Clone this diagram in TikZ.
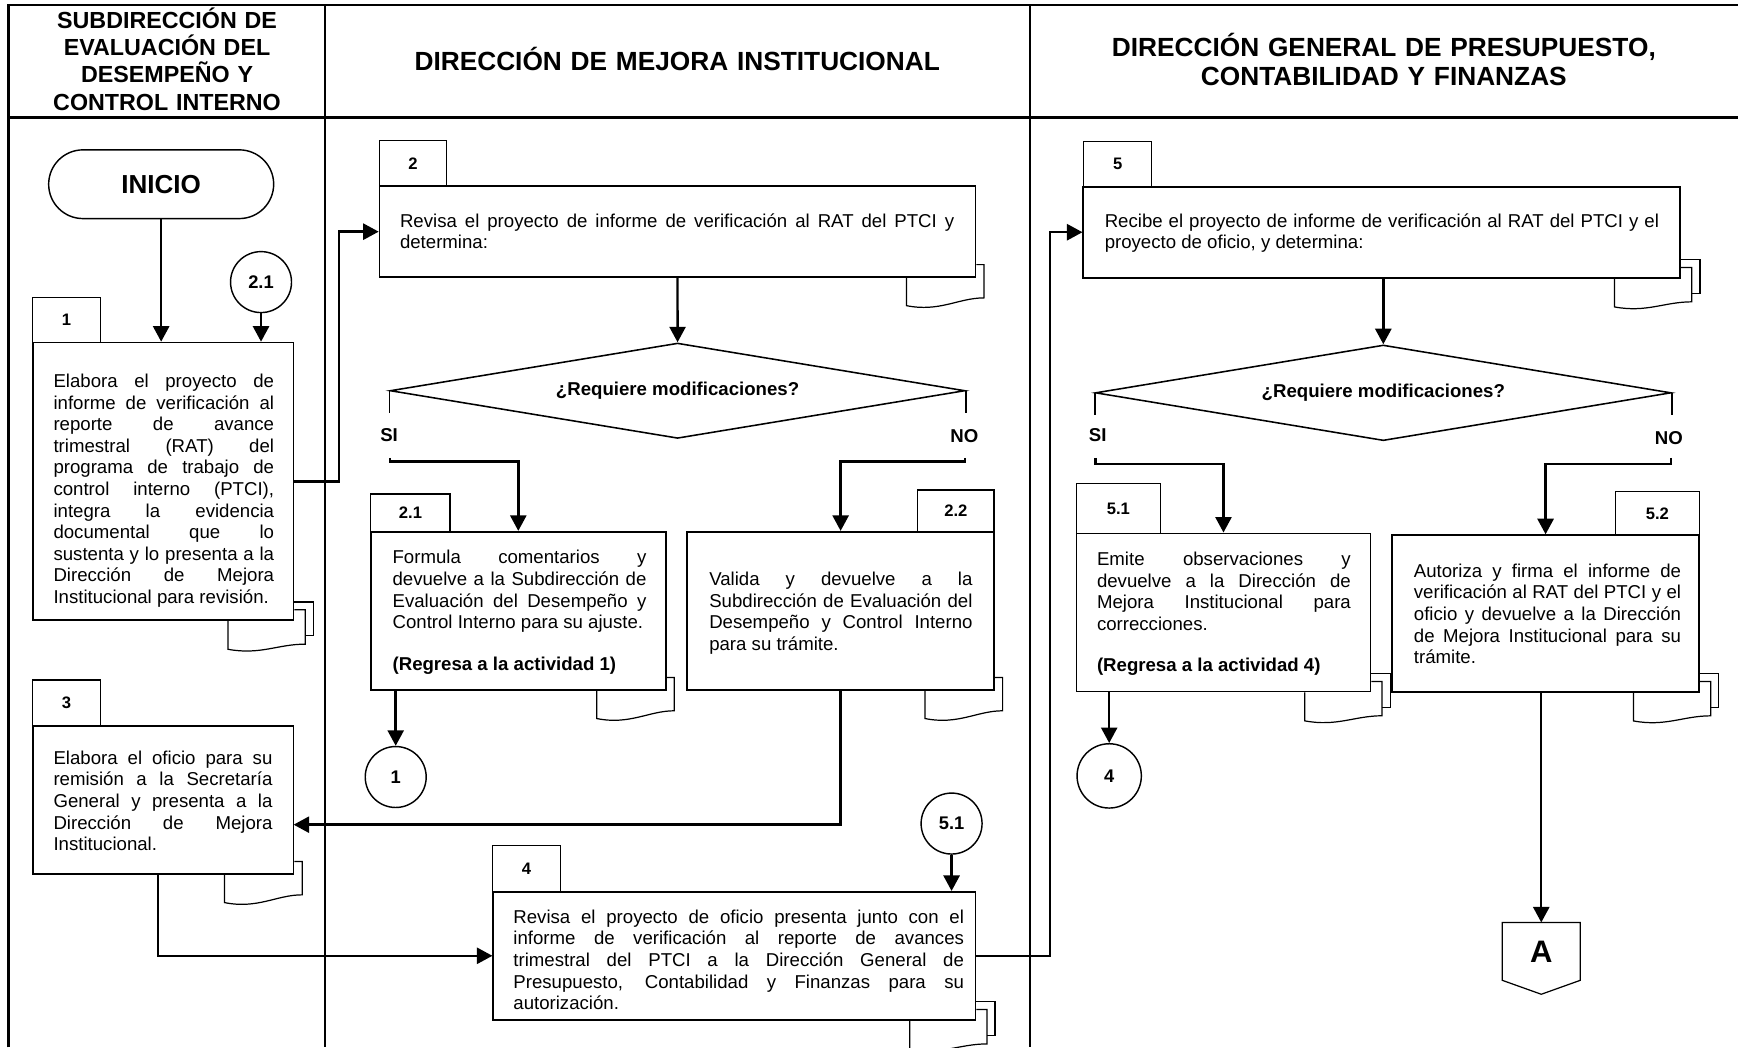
\documentclass[tikz,border=0pt]{standalone}
\usepackage{fontspec}
\setmainfont{Liberation Sans}
\usetikzlibrary{arrows.meta,shapes.geometric}
\tolerance=10000
\hyphenpenalty=10000
\exhyphenpenalty=10000
\newcommand\fbody{\fontsize{16.8}{19.5}\selectfont}
\newcommand\fbodyb{\fontsize{16.8}{19.5}\selectfont\bfseries}
\newcommand\ftab{\fontsize{15}{18}\selectfont\bfseries}
\newcommand\fcirc{\fontsize{16.5}{18}\selectfont\bfseries}
\newcommand\fhdrA{\fontsize{21}{24.6}\selectfont\bfseries}
\newcommand\fhdrB{\fontsize{23.7}{25.9}\selectfont\bfseries}
\newcommand\fstart{\fontsize{23.5}{27}\selectfont\bfseries}
\newcommand\fpage{\fontsize{28}{32}\selectfont\bfseries}
\newcommand\docone[1]{%
  \draw[docl] ([shift={(0,-12)}]#1.south east) -- ([shift={(7,-12)}]#1.south east)
    -- ([shift={(7,18)}]#1.south east)
    .. controls ([shift={(-16,18)}]#1.south east) and ([shift={(-33,31)}]#1.south east)
    .. ([shift={(-63,25)}]#1.south east) -- ([shift={(-63,0)}]#1.south east);}
\newcommand\docmulti[1]{%
  \draw[docl] ([shift={(0,-17)}]#1.south east) -- ([shift={(17,-17)}]#1.south east)
    -- ([shift={(17,13.5)}]#1.south east) -- ([shift={(9.7,13.5)}]#1.south east);
  \draw[docl] ([shift={(0,-10)}]#1.south east) -- ([shift={(9.7,-10)}]#1.south east)
    -- ([shift={(9.7,21)}]#1.south east)
    .. controls ([shift={(-15,21)}]#1.south east) and ([shift={(-31,31)}]#1.south east)
    .. ([shift={(-60,25.6)}]#1.south east) -- ([shift={(-60,0)}]#1.south east);}
\tikzset{
  frame/.style={line width=2pt},
  box/.style={draw, line width=1.5pt, fill=white, inner sep=0pt},
  tabbox/.style={draw, line width=1pt, fill=white, inner sep=0pt, font=\ftab},
  txt/.style={inner sep=0pt, align=justify, font=\fbody, anchor=base west},
  hdr/.style={inner sep=0pt, align=center, anchor=base},
  arr/.style={line width=2.2pt, -{Triangle[length=14pt,width=14.5pt]}},
  tickl/.style={line width=1.5pt},
  docl/.style={line width=1.1pt},
  circ/.style={circle, draw, line width=1.3pt, minimum size=55pt, inner sep=0pt, font=\fcirc},
  decision/.style={diamond, draw, line width=1.4pt, aspect=6, inner sep=0pt, font=\fbodyb},
  lbl/.style={inner sep=0pt, font=\fbodyb},
  startbox/.style={draw, rectangle, rounded corners=31pt, line width=1.3pt, minimum width=203pt, minimum height=62pt, font=\fstart},
}
\begin{document}
\begin{tikzpicture}[x=1pt, y=-1pt]
\useasboundingbox (0,0) rectangle (1568,945);
% frame
\draw[frame] (7.6,945) -- (7.6,4.5) -- (1568,4.5);
\draw[frame] (7.6,106) -- (1568,106);
\draw[frame] (293,4.5) -- (293,945);
\draw[frame] (929,4.5) -- (929,945);
% headers
\node[hdr, font=\fhdrA, text width=280pt] (h1) at (150.7,25.5) {SUBDIRECCIÓN DE\\EVALUACIÓN DEL\\DESEMPEÑO Y\\CONTROL INTERNO};
\node[hdr, font=\fhdrB, text width=600pt] (h2) at (611,63.5) {DIRECCIÓN DE MEJORA INSTITUCIONAL};
\node[hdr, font=\fhdrB, text width=600pt] (h3) at (1248.5,51.2) {DIRECCIÓN GENERAL DE PRESUPUESTO,\\CONTABILIDAD Y FINANZAS};

% lane 1
\node[startbox] (inicio) at (145.4,166.2) {INICIO};
\node[circ] (c21a) at (235.5,254.5) {2.1};
\node[tabbox, minimum width=61.3pt, minimum height=40.8pt] (t1) at (60.1,288.6) {1};
\node[box, minimum width=235.3pt, minimum height=250.4pt] (b1) at (147.2,434.2) {};
\docmulti{b1}
\node[txt, text width=199pt] (b1t) at (48.1,349.5) {Elabora el proyecto de\linebreak informe de verificación al\linebreak reporte de avance\linebreak trimestral (RAT) del\linebreak programa de trabajo de\linebreak control interno (PTCI),\linebreak integra la evidencia\linebreak documental que lo\linebreak sustenta y lo presenta a la\linebreak Dirección de Mejora\linebreak Institucional para revisión.};

\node[tabbox, minimum width=61.3pt, minimum height=41.5pt] (t3) at (60.1,634.25) {3};
\node[box, minimum width=235.3pt, minimum height=133.5pt] (b3) at (147.2,721.8) {};
\docone{b3}
\node[txt, text width=197.5pt] (b3t) at (48.1,689.5) {Elabora el oficio para su\linebreak remisión a la Secretaría\linebreak General y presenta a la\linebreak Dirección de Mejora\linebreak Institucional.};

% lane 2
\node[tabbox, minimum width=60.6pt, minimum height=41pt] (t2) at (372.7,147.5) {2};
\node[box, minimum width=537.6pt, minimum height=82pt] (b2) at (611.2,209) {};
\docone{b2}
\node[txt, text width=500pt] (b2t) at (360.7,205) {Revisa el proyecto de informe de verificación al RAT del PTCI y\linebreak determina:};

\node[decision, minimum width=518.6pt, minimum height=86pt] (d1) at (611.3,352.5) {¿Requiere modificaciones?};
\node[lbl] (si1) at (351,392.5) {SI};
\node[lbl] (no1) at (870,393) {NO};

\node[tabbox, minimum width=71.4pt, minimum height=34pt] (t21) at (370.3,462.7) {2.1};
\node[box, minimum width=266pt, minimum height=142.8pt] (b21) at (467.6,551.1) {};
\docone{b21}
\node[txt, text width=229pt] (b21t) at (354,508.7) {Formula comentarios y\linebreak devuelve a la Subdirección de\linebreak Evaluación del Desempeño y\linebreak Control Interno para su ajuste.\par\vskip 18pt\textbf{(Regresa a la actividad 1)}};

\node[tabbox, minimum width=68.8pt, minimum height=37.7pt] (t22) at (862.4,460.9) {2.2};
\node[box, minimum width=276.8pt, minimum height=142.8pt] (b22) at (758.4,551.1) {};
\docone{b22}
\node[txt, text width=237.5pt] (b22t) at (639.7,528.3) {Valida y devuelve a la\linebreak Subdirección de Evaluación del\linebreak Desempeño y Control Interno\linebreak para su trámite.};

\node[circ] (c1) at (357,701) {1};
\node[circ] (c51) at (858.5,743) {5.1};

\node[tabbox, minimum width=62pt, minimum height=41.5pt] (t4) at (475,783.8) {4};
\node[box, minimum width=435pt, minimum height=115.5pt] (b4) at (662.5,862.3) {};
\docmulti{b4}
\node[txt, text width=406.5pt] (b4t) at (463,833) {Revisa el proyecto de oficio presenta junto con el\linebreak informe de verificación al reporte de avances\linebreak trimestral del PTCI a la Dirección General de\linebreak Presupuesto, Contabilidad y Finanzas para su\linebreak autorización.};

% lane 3
\node[tabbox, minimum width=61.9pt, minimum height=40.6pt] (t5) at (1008.3,148.1) {5};
\node[box, minimum width=538.5pt, minimum height=82.1pt] (b5) at (1246.6,209.5) {};
\docmulti{b5}
\node[txt, text width=500pt] (b5t) at (996.5,205) {Recibe el proyecto de informe de verificación al RAT del PTCI y el\linebreak proyecto de oficio, y determina:};

\node[decision, minimum width=519.3pt, minimum height=86.3pt] (d2) at (1248,354.4) {¿Requiere modificaciones?};
\node[lbl] (si2) at (990.4,392.5) {SI};
\node[lbl] (no2) at (1505.6,395.5) {NO};

\node[tabbox, minimum width=75.6pt, minimum height=45.1pt] (t51) at (1009,458.65) {5.1};
\node[box, minimum width=265.2pt, minimum height=142.8pt] (b51) at (1103.8,552.6) {};
\docmulti{b51}
\node[txt, text width=229pt] (b51t) at (989.5,510.2) {Emite observaciones y\linebreak devuelve a la Dirección de\linebreak Mejora Institucional para\linebreak correcciones.\par\vskip 18pt\textbf{(Regresa a la actividad 4)}};

\node[tabbox, minimum width=75.3pt, minimum height=39.1pt] (t52) at (1495.25,463.15) {5.2};
\node[box, minimum width=277pt, minimum height=141.3pt] (b52) at (1394.4,553.4) {};
\docmulti{b52}
\node[txt, text width=241pt] (b52t) at (1275.4,520.7) {Autoriza y firma el informe de\linebreak verificación al RAT del PTCI y el\linebreak oficio y devuelve a la Dirección\linebreak de Mejora Institucional para su\linebreak trámite.};

\node[circ, minimum size=58pt] (c4) at (1000.7,700) {4};

\node[inner sep=0pt, minimum width=70.1pt, minimum height=51.8pt, font=\fpage] (A) at (1390.5,858.3) {A};
\draw[line width=1.1pt] (A.north west) -- (A.north east) -- (A.south east) -- ([shift={(0,12.6)}]A.south) -- (A.south west) -- cycle;

% connectors
\draw[arr] (inicio.south) -- (inicio.south |- b1.north);
\draw[arr] (c21a.south) -- (c21a.south |- b1.north);
\draw[arr] (b1.east) -- ++(40,0) |- (b2.west);
\draw[arr] (b2.south) -- (d1.north);
\draw[tickl] (d1.west) -- ++(0,20);
\draw[tickl] (d1.east) -- ++(0,20);
\coordinate (s1) at (352,413);
\coordinate (n1) at (870.6,413);
\draw[arr] (s1) -- ++(0,3.5) -| (b21.north);
\draw[arr] (n1) -- ++(0,3.5) -| (b22.north);
\draw[arr] (b21.south -| c1) -- (c1.north);
\coordinate (j3) at (264.9,744);
\draw[arr] (b22.south) |- (j3);
\draw[arr] (c51.south) -- (c51.south |- b4.north);
\draw[arr] ([xshift=-4.9pt]b3.south) |- (b4.west);
\draw[arr] (b4.east) -- ++(66.5,0) |- (b5.west);
\draw[arr] (b5.south -| d2.north) -- (d2.north);
\draw[tickl] (d2.west) -- ++(0,20);
\draw[tickl] (d2.east) -- ++(0,20);
\coordinate (s2) at (988.3,413);
\coordinate (n2) at (1507.6,413);
\draw[arr] (s2) -- ++(0,5.6) -| (b51.north);
\draw[arr] (n2) -- ++(0,5.6) -| (b52.north);
\draw[arr] (b51.south -| c4) -- (c4.north);
\draw[arr] (b52.south -| A) -- (A.north);
\end{tikzpicture}
\end{document}
